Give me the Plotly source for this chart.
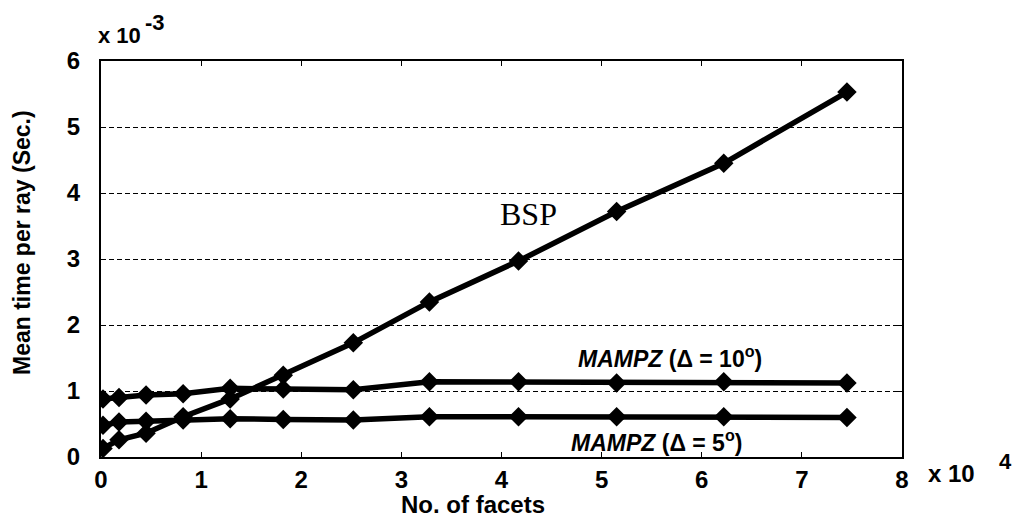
import plotly.graph_objects as go

# Number of facets (in units of 10^4)
facets = [0.02, 0.18, 0.45, 0.82, 1.29, 1.82, 2.52, 3.28, 4.17, 5.15, 6.22, 7.45]

# Mean time per ray (in units of 10^-3 s)
bsp = [0.13, 0.26, 0.36, 0.61, 0.88, 1.24, 1.73, 2.35, 2.97, 3.72, 4.45, 5.53]
mampz_10 = [0.88, 0.90, 0.94, 0.96, 1.04, 1.03, 1.02, 1.14, 1.14, 1.12, 1.14, 1.12]
mampz_5 = [0.48, 0.53, 0.54, 0.56, 0.58, 0.57, 0.56, 0.61, 0.61, 0.61, 0.61, 0.60]

x_ticks = [0, 1, 2, 3, 4, 5, 6, 7, 8]
y_ticks = [0, 1, 2, 3, 4, 5, 6]

L, R, T, B = 101, 117, 61, 63
W, H = 1019, 520
PW, PH = W - L - R, H - T - B


def px(x):
    return (x - L) / PW


def py(y):
    return (H - B - y) / PH


fig = go.Figure()
for name, vals in [("MAMPZ 5", mampz_5), ("MAMPZ 10", mampz_10), ("BSP", bsp)]:
    fig.add_trace(go.Scatter(
        x=facets, y=vals, name=name, mode="lines+markers",
        line=dict(color="black", width=5.5),
        marker=dict(symbol="diamond", size=15, color="black"),
        showlegend=False,
    ))

sans = "Liberation Sans, Arial"
tick_font = dict(family=sans, size=24, color="black")

fig.update_layout(
    width=W, height=H,
    margin=dict(l=L, r=R, t=T, b=B),
    paper_bgcolor="white", plot_bgcolor="white",
    font=dict(family=sans, color="black"),
    xaxis=dict(
        range=[0, 8], tickvals=x_ticks, ticktext=[f"<b>{v}</b>" for v in x_ticks],
        showline=True, linecolor="black", linewidth=2, mirror="ticks",
        ticks="inside", ticklen=5, tickcolor="black",
        showgrid=False, zeroline=False, tickfont=tick_font, ticklabelstandoff=0,
    ),
    yaxis=dict(
        range=[0, 6], tickvals=y_ticks, ticktext=[f"<b>{v}</b>" for v in y_ticks],
        showline=True, linecolor="black", linewidth=2, mirror="ticks",
        ticks="inside", ticklen=5, tickcolor="black",
        showgrid=True, gridcolor="black", gridwidth=1, griddash="5px,3px",
        zeroline=False, tickfont=tick_font, ticklabelstandoff=14,
    ),
)

annotations = [
    # axis titles
    dict(text="<b>Mean time per ray (Sec.)</b>", xref="paper", yref="paper",
         x=px(22), y=py(243), xanchor="center", yanchor="middle", textangle=-90,
         font=dict(size=23)),
    dict(text="<b>No. of facets</b>", xref="paper", yref="paper",
         x=px(473), y=py(505), xanchor="center", yanchor="middle",
         font=dict(size=24)),
    # axis multipliers
    dict(text="<b>x 10</b>", xref="paper", yref="paper",
         x=px(96), y=py(36), xanchor="left", yanchor="middle", font=dict(size=22)),
    dict(text="<b>-3</b>", xref="paper", yref="paper",
         x=px(143), y=py(23), xanchor="left", yanchor="middle", font=dict(size=22)),
    dict(text="<b>x 10</b>", xref="paper", yref="paper",
         x=px(926), y=py(474), xanchor="left", yanchor="middle", font=dict(size=24)),
    dict(text="<b>4</b>", xref="paper", yref="paper",
         x=px(997), y=py(462), xanchor="left", yanchor="middle", font=dict(size=22)),
    # series labels
    dict(text="BSP", x=4.27, y=3.68, xref="x", yref="y",
         font=dict(family="Liberation Serif, Times New Roman", size=32)),
    dict(text="<b><i>MAMPZ</i> (Δ = 10<sup>o</sup>)</b>", x=5.68, y=1.52, xref="x", yref="y",
         font=dict(size=23)),
    dict(text="<b><i>MAMPZ</i> (Δ = 5<sup>o</sup>)</b>", x=5.55, y=0.24, xref="x", yref="y",
         font=dict(size=23)),
]
for a in annotations:
    a.setdefault("showarrow", False)
    fig.add_annotation(**a)

fig.write_html("out.html")
